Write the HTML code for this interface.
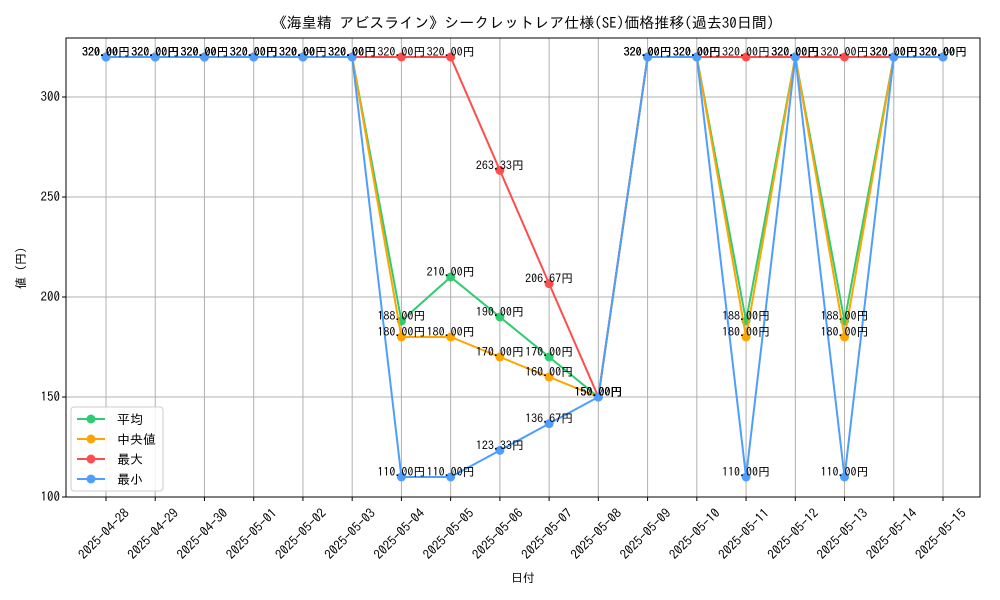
<!DOCTYPE html>
<html><head><meta charset="utf-8"><style>
body{margin:0;background:#fff;}
svg{display:block;font-family:"IPAGothic","Noto Sans CJK JP",sans-serif;}
</style></head><body>
<svg id="chart" width="1000" height="600" xmlns="http://www.w3.org/2000/svg"></svg>
<script>
const categories=["2025-04-28","2025-04-29","2025-04-30","2025-05-01","2025-05-02","2025-05-03","2025-05-04","2025-05-05","2025-05-06","2025-05-07","2025-05-08","2025-05-09","2025-05-10","2025-05-11","2025-05-12","2025-05-13","2025-05-14","2025-05-15"];
const avgValues=[320,320,320,320,320,320,188,210,190,170,150,320,320,188,320,188,320,320];
const medianValues=[320,320,320,320,320,320,180,180,170,160,150,320,320,180,320,180,320,320];
const maxValues=[320,320,320,320,320,320,320,320,263.33,206.67,150,320,320,320,320,320,320,320];
const minValues=[320,320,320,320,320,320,110,110,123.33,136.67,150,320,320,110,320,110,320,320];
const yTicks=[100,150,200,250,300];
const seriesNames=["平均","中央値","最大","最小"];

const NS="http://www.w3.org/2000/svg";
const svg=document.getElementById('chart');
const L=66,R=980,T=38,B=497;
const x=i=>106+i*(943-106)/(categories.length-1);
const y=v=>497-(v-100)*2;
function el(tag,attrs,parent){const e=document.createElementNS(NS,tag);for(const k in attrs)e.setAttribute(k,attrs[k]);(parent||svg).appendChild(e);return e;}

categories.forEach((c,i)=>{const g=el('line',{x1:x(i),x2:x(i),y1:T,y2:B,stroke:'#b0b0b0','stroke-width':1});

});
yTicks.forEach(v=>{const g=el('line',{x1:L,x2:R,y1:y(v),y2:y(v),stroke:'#b0b0b0','stroke-width':1});

});
const frame=el('rect',{x:L,y:T,width:R-L,height:B-T,fill:'none',stroke:'#000','stroke-width':1});



yTicks.forEach(v=>{el('line',{x1:L-4,x2:L,y1:y(v),y2:y(v),stroke:'#000'});
const t=el('text',{x:L-6,y:y(v)+4,'text-anchor':'end','font-size':13});t.textContent=v;

});
categories.forEach((c,i)=>{el('line',{x1:x(i),x2:x(i),y1:B,y2:B+4,stroke:'#000'});
const cx=x(i)+1,cy=B+40;
const t=el('text',{x:cx,y:cy,'text-anchor':'middle','font-size':13,transform:`rotate(-45 ${cx} ${cy})`});t.textContent=c;

});

const title=el('text',{x:523,y:28,'text-anchor':'middle','font-size':15});title.textContent="《海皇精 アビスライン》シークレットレア仕様(SE)価格推移(過去30日間)";


const xt=el('text',{x:523,y:582,'text-anchor':'middle','font-size':12});xt.textContent="日付";


const yt=el('text',{x:25,y:268,'text-anchor':'middle','font-size':12,transform:'rotate(-90 25 268)'});yt.textContent="値 (円)";



const series=[[avgValues,'#2ecc71','avg'],[medianValues,'#ffa500','median'],[maxValues,'#ff4d4d','max'],[minValues,'#4d9eff','min']];
series.forEach(([vals,col,key])=>{
  const p=el('polyline',{points:vals.map((v,i)=>x(i)+','+y(v)).join(' '),fill:'none',stroke:col,'stroke-width':2});
  
  
  vals.forEach((v,i)=>{const c=el('circle',{cx:x(i),cy:y(v),r:4.5,fill:col});
  
  });
});
series.forEach(([vals,col,key])=>{
  vals.forEach((v,i)=>{const t=el('text',{x:x(i),y:y(v)-1,'text-anchor':'middle','font-size':12,fill:'#000'});t.textContent=v.toFixed(2)+"円";
  
  });
});

const lg=el('g',{});


el('rect',{x:71,y:407,width:92,height:84,rx:3,fill:'#fff','fill-opacity':0.85,stroke:'#ccc'},lg);
series.forEach(([vals,col,key],k)=>{
  const yy=419+k*20;
  const g=el('g',{},lg);
  
  
  el('line',{x1:77,x2:105,y1:yy,y2:yy,stroke:col,'stroke-width':2},g);
  el('circle',{cx:91,cy:yy,r:4.5,fill:col},g);
  const t=el('text',{x:117,y:yy+5,'font-size':13},g);t.textContent=seriesNames[k];
});
</script>
</body></html>
